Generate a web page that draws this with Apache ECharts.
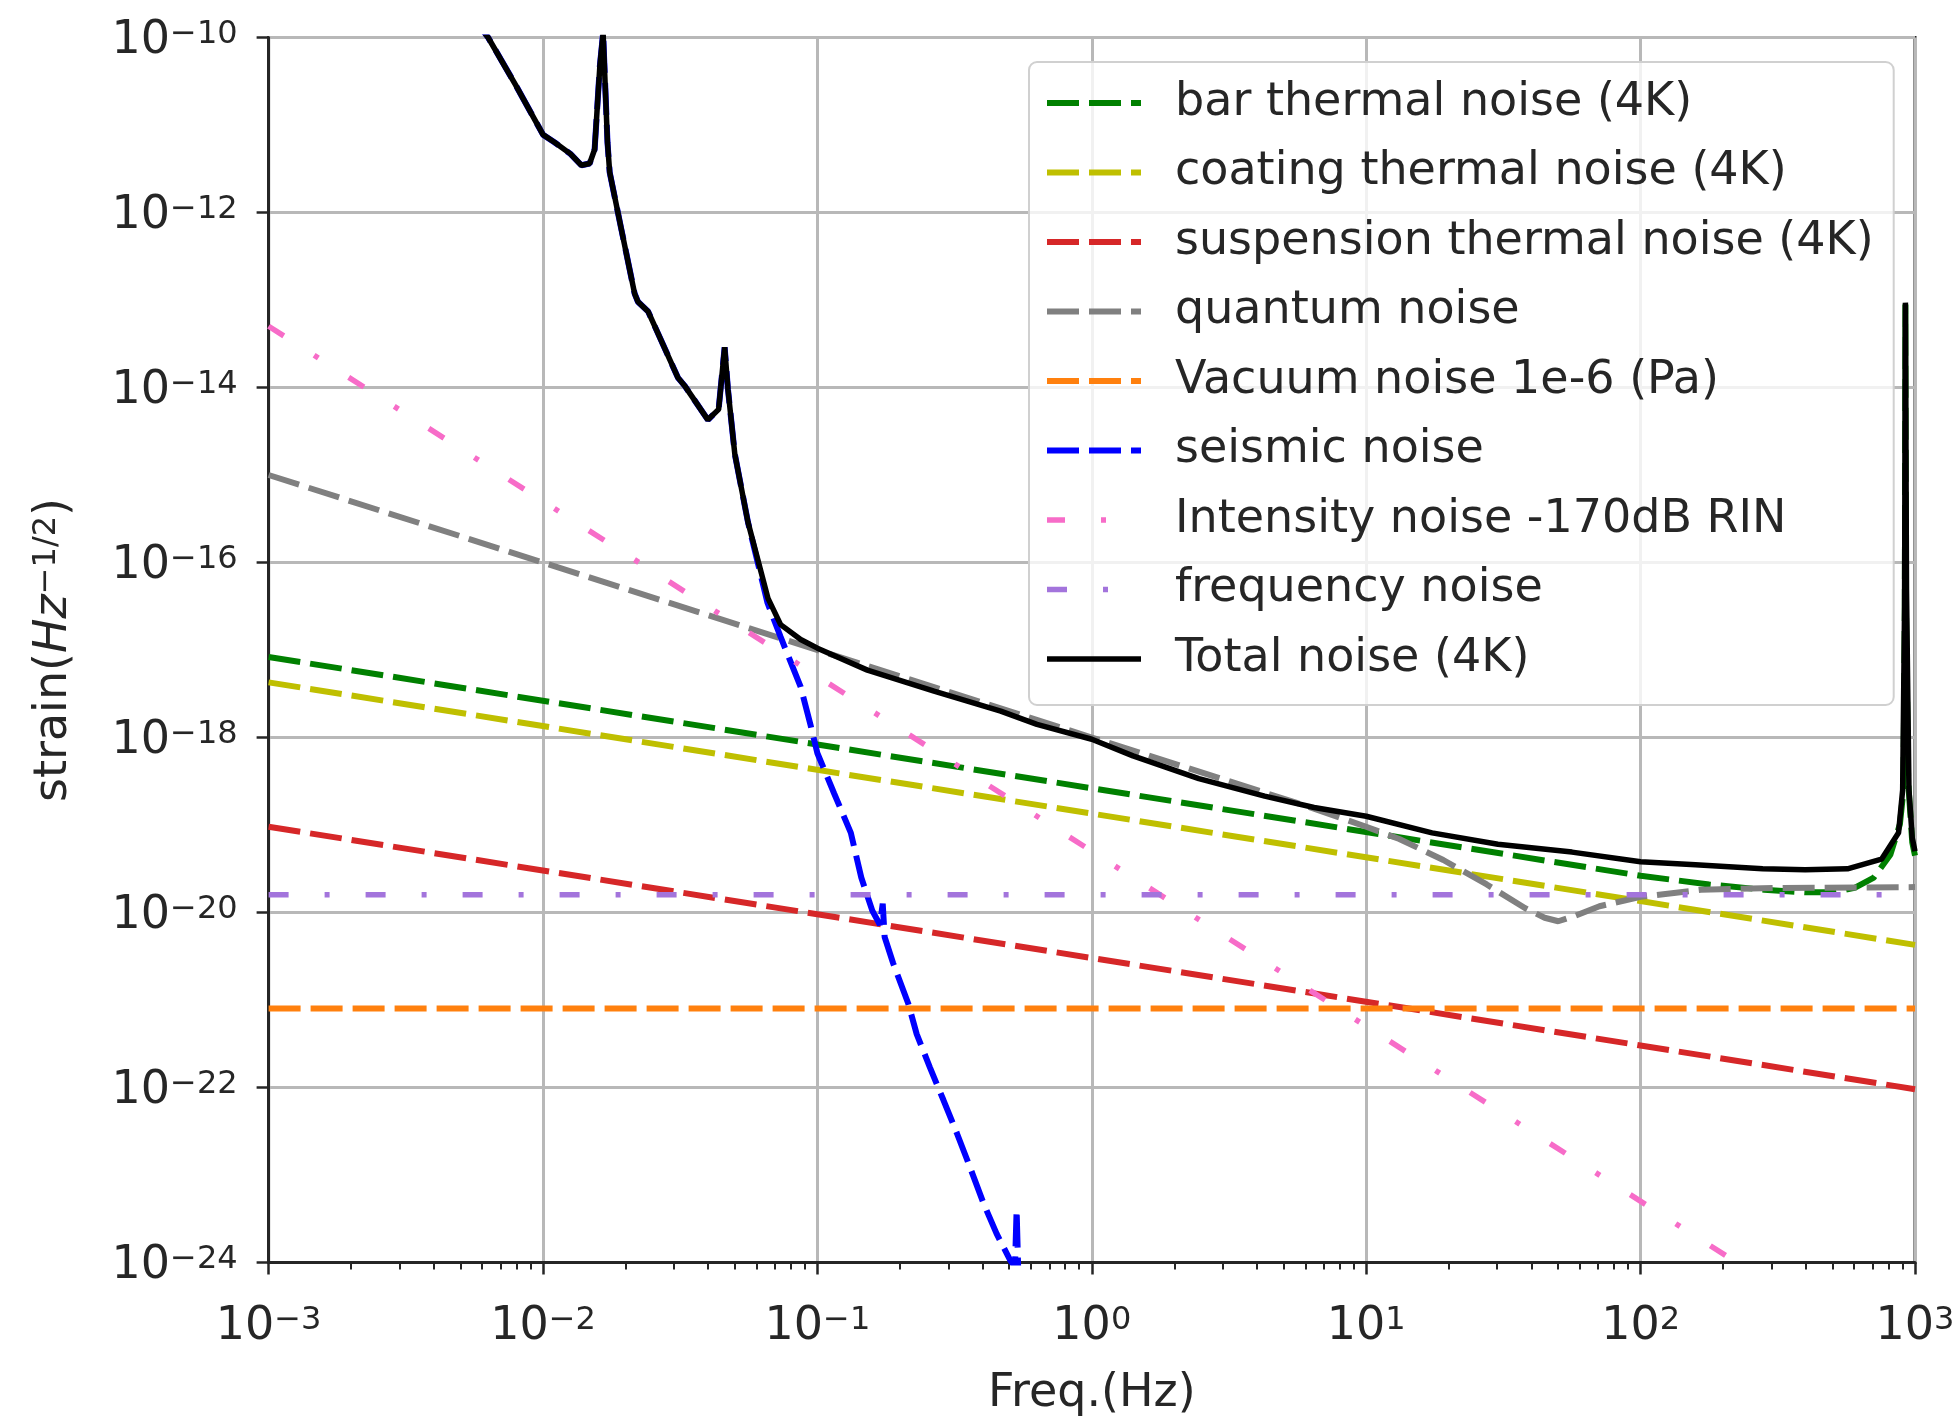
<!DOCTYPE html>
<html>
<head>
<meta charset="utf-8">
<script src="https://cdn.jsdelivr.net/npm/echarts@6/dist/echarts.min.js"></script>
<style>
  html, body { margin: 0; padding: 0; background: #ffffff; }
  #chart { width: 1959px; height: 1421px; }
</style>
</head>
<body>
<div id="chart"></div>
<script>
// Noise budget: frequency in Hz, strain amplitude in 1/sqrt(Hz)

const barFreq   = [0.001, 100, 177.8, 281.8, 398.1, 501.2, 602.6, 707.9, 812.8, 881.0, 907.8, 918.3, 922.6, 926.8, 944.1, 977.2, 1000];
const barStrain = [8.32e-18, 2.63e-20, 2.09e-20, 1.82e-20, 1.70e-20, 1.70e-20, 1.91e-20, 2.51e-20, 4.57e-20, 1.02e-19, 2.51e-19, 3.16e-17, 8.91e-14, 3.16e-17, 3.16e-19, 6.31e-20, 4.47e-20];

const coatingFreq   = [0.001, 1000];
const coatingStrain = [4.27e-18, 4.27e-21];

const suspensionFreq   = [0.001, 1000];
const suspensionStrain = [9.55e-20, 9.55e-23];

const quantumFreq   = [0.001, 1, 5.62, 10, 13.2, 19.1, 27.5, 38.0, 44.7, 50.1, 57.5, 70.8, 100, 166, 316, 1000];
const quantumStrain = [1e-15, 1e-18, 1.78e-19, 9.55e-20, 6.92e-20, 3.98e-20, 2.09e-20, 1.12e-20, 8.71e-21, 7.94e-21, 9.12e-21, 1.18e-20, 1.51e-20, 1.82e-20, 1.91e-20, 1.95e-20];

const vacuumFreq   = [0.001, 1000];
const vacuumStrain = [8e-22, 8e-22];

const seismicFreq   = [0.005495, 0.00631, 0.007943, 0.01, 0.01104, 0.01259, 0.0138, 0.01479, 0.01542, 0.01611,
                       0.01656, 0.01718, 0.0175, 0.01932, 0.02158, 0.02218, 0.02415, 0.03105, 0.03281, 0.0399,
                       0.04365, 0.04592, 0.04721, 0.05, 0.05585, 0.06577, 0.07345, 0.0869, 0.09462, 0.1,
                       0.1151, 0.1324, 0.1445, 0.1585, 0.169, 0.173, 0.1758, 0.1888, 0.2143, 0.2301,
                       0.257, 0.2877, 0.3221, 0.3597, 0.4027, 0.4498, 0.5035, 0.5248, 0.5321, 0.5395];
const seismicStrain = [1.78e-10, 1e-10, 2.88e-11, 7.76e-12, 6.31e-12, 4.68e-12, 3.47e-12, 3.63e-12, 5.25e-12, 4.68e-11,
                       1.12e-10, 6.31e-12, 2.88e-12, 6.31e-13, 1.18e-13, 9.55e-14, 7.41e-14, 1.29e-14, 1.05e-14, 4.27e-15,
                       5.62e-15, 2.88e-14, 9.55e-15, 1.74e-15, 2.88e-16, 3.47e-17, 1.41e-17, 3.80e-18, 1.35e-18, 6.61e-19,
                       2.29e-19, 8.13e-20, 2.51e-20, 1.05e-20, 7.24e-21, 1.26e-20, 5.25e-21, 2.63e-21, 9.12e-22, 4.07e-22,
                       1.70e-22, 7.24e-23, 3.02e-23, 1.23e-23, 4.79e-24, 2.14e-24, 1.07e-24, 8.91e-25, 3.98e-24, 7.94e-25];

const intensityFreq   = [0.001, 1000];
const intensityStrain = [5.01e-14, 5.01e-26];

const frequencyFreq   = [0.001, 1000];
const frequencyStrain = [1.6e-20, 1.6e-20];

const totalFreq   = [0.005495, 0.00631, 0.007943, 0.01, 0.01104, 0.01259, 0.0138, 0.01479, 0.01542, 0.01611,
                     0.01656, 0.01718, 0.0175, 0.01932, 0.02158, 0.02218, 0.02415, 0.03105, 0.03281, 0.0399,
                     0.04365, 0.04592, 0.04721, 0.05, 0.05585, 0.06607, 0.07345, 0.0869, 0.1, 0.1521,
                     0.2661, 0.4656, 0.631, 1, 1.413, 2.455, 4.266, 6.457, 10, 17.38,
                     30.2, 56.23, 100, 158.5, 278.6, 398.1, 567.5, 755.1, 871.0, 901.6,
                     916.2, 922.6, 931.1, 950.6, 977.2, 1000];
const totalStrain = [1.78e-10, 1e-10, 2.88e-11, 7.76e-12, 6.31e-12, 4.68e-12, 3.47e-12, 3.63e-12, 5.25e-12, 4.68e-11,
                     1.12e-10, 6.31e-12, 2.88e-12, 6.31e-13, 1.18e-13, 9.55e-14, 7.41e-14, 1.29e-14, 1.05e-14, 4.27e-15,
                     5.62e-15, 2.88e-14, 9.55e-15, 1.74e-15, 2.88e-16, 3.89e-17, 1.95e-17, 1.32e-17, 1.05e-17, 5.89e-18,
                     3.39e-18, 2.00e-18, 1.41e-18, 9.55e-19, 6.17e-19, 3.39e-19, 2.14e-19, 1.585e-19, 1.26e-19, 8.13e-20,
                     6.03e-20, 4.90e-20, 3.80e-20, 3.51e-20, 3.16e-20, 3.09e-20, 3.16e-20, 4.07e-20, 8.13e-20, 2.51e-19,
                     3.16e-17, 9.33e-14, 5.01e-17, 2.51e-19, 7.08e-20, 5.01e-20];

// Decade exponents shown on the strain axis
const strainTickExponents = [-24, -22, -20, -18, -16, -14, -12, -10];

const FONT = 'DejaVu Sans';
const INK = '#262626';

function powerLabel(n) {
  return '{b|10}{s|' + (n < 0 ? '\u2212' + (-n) : String(n)) + '}';
}

const tickRich = {
  b: { fontSize: 46, fontFamily: FONT, color: INK, lineHeight: 46, padding: [8, 0, 0, 0], verticalAlign: 'bottom' },
  s: { fontSize: 32, fontFamily: FONT, color: INK, lineHeight: 32, verticalAlign: 'top' }
};

function noiseLine(name, freq, strain, color, width, dash) {
  return {
    name: name,
    type: 'line',
    data: freq.map((f, i) => [f, Math.log10(strain[i])]),
    symbol: 'none',
    showSymbol: false,
    clip: true,
    silent: true,
    animation: false,
    emphasis: { disabled: true },
    itemStyle: { color: color },
    lineStyle: { color: color, width: width, type: dash, cap: 'butt' }
  };
}

const DASH = [32, 10];

const chart = echarts.init(document.getElementById('chart'), null, { renderer: 'canvas' });
chart.setOption({
  backgroundColor: '#ffffff',
  animation: false,
  grid: {
    left: 268.6, top: 37.5, width: 1646.4, height: 1225,
    show: true, borderColor: INK, borderWidth: 3, backgroundColor: 'transparent',
    outerBoundsMode: 'none', containLabel: false
  },
  legend: {
    orient: 'vertical',
    left: 1029, top: 62,
    padding: [12, 20, 17, 15],
    itemWidth: 94, itemHeight: 20, itemGap: 11.5,
    backgroundColor: 'rgba(255,255,255,0.8)',
    borderColor: '#d0d0d0', borderWidth: 2, borderRadius: 8,
    selectedMode: false,
    lineStyle: { width: 'inherit' },
    itemStyle: { color: 'rgba(0,0,0,0)', borderWidth: 0, opacity: 0 },
    textStyle: { fontSize: 46, fontFamily: FONT, color: INK, lineHeight: 50, padding: [8, 0, 0, 29] }
  },
  xAxis: {
    type: 'log', logBase: 10, min: 0.001, max: 1000,
    axisLine: { show: true, lineStyle: { color: INK, width: 3 } },
    axisTick: { show: true, length: 12, lineStyle: { color: INK, width: 2.5 } },
    minorTick: { show: true, splitNumber: 9, length: 7, lineStyle: { color: INK, width: 2 } },
    splitLine: { show: true, lineStyle: { color: '#b8b8b8', width: 3 } },
    minorSplitLine: { show: false },
    axisLabel: {
      margin: 42,
      formatter: v => powerLabel(Math.round(Math.log10(v))),
      rich: tickRich
    },
    name: 'Freq.(Hz)', nameLocation: 'middle', nameGap: 109,
    nameTextStyle: { fontSize: 46, fontFamily: FONT, color: INK }
  },
  yAxis: {
    type: 'value', min: strainTickExponents[0], max: strainTickExponents[strainTickExponents.length - 1], interval: 2,
    axisLine: { show: true, lineStyle: { color: INK, width: 3 } },
    axisTick: { show: true, length: 12, lineStyle: { color: INK, width: 2.5 } },
    splitLine: { show: true, lineStyle: { color: '#b8b8b8', width: 3 } },
    axisLabel: {
      margin: 31, showMinLabel: true, showMaxLabel: true,
      padding: [8, 0, 0, 0],
      formatter: v => powerLabel(v),
      rich: tickRich
    },
    name: '{a|strain(}{i|Hz}{s|\u22121/2}{a|)}',
    nameLocation: 'middle', nameGap: 192,
    nameTextStyle: {
      fontSize: 46, fontFamily: FONT, color: INK,
      rich: {
        a: { fontSize: 46, fontFamily: FONT, color: INK, lineHeight: 46, padding: [8, 0, 0, 0], verticalAlign: 'bottom' },
        i: { fontSize: 46, fontFamily: FONT, fontStyle: 'italic', color: INK, lineHeight: 46, padding: [8, 0, 0, 0], verticalAlign: 'bottom' },
        s: { fontSize: 32, fontFamily: FONT, color: INK, lineHeight: 32, verticalAlign: 'top' }
      }
    }
  },
  series: [
    noiseLine('bar thermal noise (4K)', barFreq, barStrain, '#008000', 6, DASH),
    noiseLine('coating thermal noise (4K)', coatingFreq, coatingStrain, '#bfbf00', 6, DASH),
    noiseLine('suspension thermal noise (4K)', suspensionFreq, suspensionStrain, '#d62728', 6, DASH),
    noiseLine('quantum noise', quantumFreq, quantumStrain, '#808080', 6, DASH),
    noiseLine('Vacuum noise 1e-6 (Pa)', vacuumFreq, vacuumStrain, '#ff800e', 6, DASH),
    noiseLine('seismic noise', seismicFreq, seismicStrain, '#0000ff', 6, DASH),
    noiseLine('Intensity noise -170dB RIN', intensityFreq, intensityStrain, '#f76cc8', 5.5, [18, 36, 5, 36]),
    noiseLine('frequency noise', frequencyFreq, frequencyStrain, '#a374dc', 5.5, [20, 36, 5, 36]),
    noiseLine('Total noise (4K)', totalFreq, totalStrain, '#000000', 5.5, 'solid')
  ]
});
</script>
</body>
</html>
